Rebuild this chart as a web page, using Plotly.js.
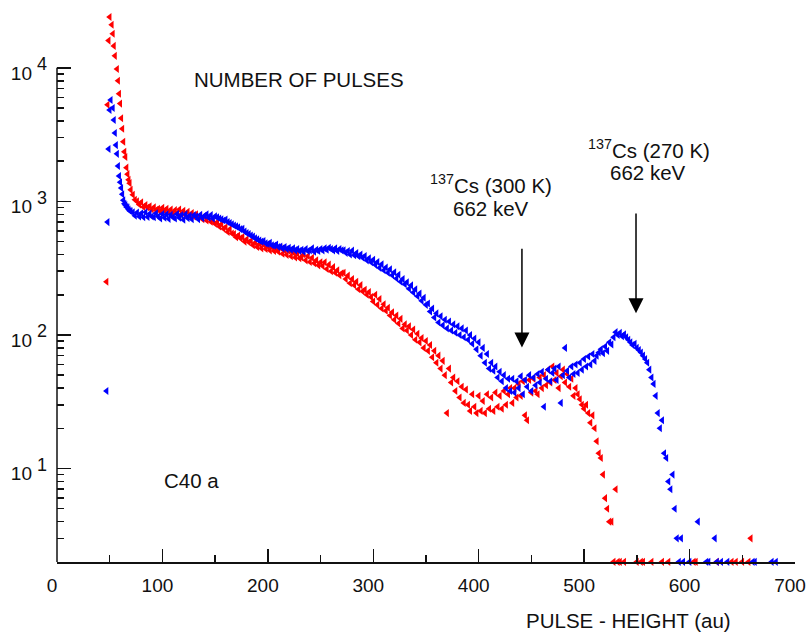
<!DOCTYPE html>
<html><head><meta charset="utf-8">
<script src="https://cdn.plot.ly/plotly-3.0.1.min.js"></script>
<style>html,body{margin:0;padding:0;background:#fff}</style>
</head><body>
<div id="chart" style="width:807px;height:632px"></div>
<script>
// pulse-height channels (au)
const channel = [
46,47,48,49,50,51,52,53,54,55,56,57,58,59,60,61,62,63,64,65,66,67,68,69,70,
72,74,76,78,80,82,84,86,88,90,
92,94,96,98,100,102,104,106,108,110,
112,114,116,118,120,122,124,126,128,130,
132,134,136,138,140,142,144,146,148,150,
152,154,156,158,160,162,164,166,168,170,
172,174,176,178,180,182,184,186,188,190,
192,194,196,198,200,202,204,206,208,210,
212,214,216,218,220,222,224,226,228,230,
232,234,236,238,240,242,244,246,248,250,
252,254,256,258,260,262,264,266,268,270,
272,274,276,278,280,282,284,286,288,290,
292,294,296,298,300,302,304,306,308,310,
312,314,316,318,320,322,324,326,328,330,
332,334,336,338,340,342,344,346,348,350,
352,354,356,358,360,362,364,366,368,370,
372,374,376,378,380,382,384,386,388,390,
392,394,396,398,400,402,404,406,408,410,
412,414,416,418,420,422,424,426,428,430,
432,434,436,438,440,442,444,446,448,450,
452,454,456,458,460,462,464,466,468,470,
472,474,476,478,480,482,484,486,488,490,
492,494,496,498,500,502,504,506,508,510,
512,514,516,518,520,522,524,526,528,530,
532,534,536,538,540,542,544,546,548,550,
552,554,556,558,560,562,564,566,568,570,
572,574,576,578,580,582,584,586,588,590,
592,594,596,598,600,602,604,606,608,610,
612,614,616,618,620,622,624,626,628,630,
632,634,636,638,640,642,644,646,648,650,
652,654,656,658,660,662,664,666,668,670,
672,674,676,678,680,682,684
];

// 137Cs at 300 K (red)
const counts300K = [
null,250,5300,16000,24000,null,21000,18000,14600,12300,null,9800,8000,6400,5400,4200,3500,2800,2350,2150,1790,1600,1450,1370,1220,
1120,1030,1000,950,985,910,940,900,920,870,
905,860,880,840,895,850,880,830,870,815,
860,815,870,800,850,790,835,775,820,770,
800,760,780,735,770,720,755,705,720,680,
695,650,675,625,640,590,620,575,570,540,
555,530,540,500,520,495,505,470,490,455,
480,445,475,440,460,430,455,425,445,420,
450,405,430,398,425,388,415,380,405,375,
380,400,362,390,352,378,345,362,332,350,
328,350,312,336,300,322,292,305,280,290,
292,262,278,244,262,236,250,220,236,212,
218,200,210,192,178,200,168,186,158,170,
152,160,140,148,130,140,122,132,112,120,
108,116,100,110,92,102,88,95,80,90,
76,84,68,76,62,70,56,64,50,26,
56,44,48,38,45,34,41,31,39,30,
27,36,29,26,35,27,32,26,36,28,
34,27,37,29,35,28,38,30,36,40,
31,40,34,43,35,45,25,23,46,37,
47,38,36,48,40,50,42,55,44,58,
46,52,40,49,55,44,51,41,47,35,
40,36,33,30,28,30,26,22,25,20,
16,13,12,9,6,5,4,4,2,7,
2,2,null,2,null,null,null,null,null,2,
null,2,2,null,null,null,2,null,null,null,
null,2,null,null,2,null,null,null,null,null,
null,null,null,null,null,null,2,2,null,null,
null,null,null,null,null,null,null,2,null,null,
null,null,null,null,2,null,2,null,null,2,
null,null,2,3,null,null,null,null,null,null,
null,null,null,null,null,null,null
];

// 137Cs at 270 K (blue)
const counts270K = [
null,38,700,2470,4840,5750,null,5000,4070,3250,2640,2270,1840,1550,1390,1260,1130,1020,960,940,910,900,870,850,845,
830,780,825,770,815,760,830,765,810,770,
760,815,770,745,805,755,800,740,795,760,
745,805,755,790,730,800,750,785,735,790,
770,735,795,750,780,800,755,790,745,775,
760,745,735,720,730,700,690,675,660,650,
640,620,625,595,580,570,555,545,530,520,
510,500,505,485,480,490,470,465,475,455,
460,445,455,440,450,435,445,430,440,425,
435,420,440,425,430,445,420,435,425,440,
430,445,435,450,440,430,445,425,440,430,
430,412,425,400,428,395,410,388,400,378,
390,362,375,350,365,335,352,318,338,305,
320,292,310,280,295,265,282,250,262,240,
248,222,235,208,220,195,204,180,190,168,
172,150,158,135,145,124,138,118,130,112,
126,108,120,104,116,100,112,96,108,92,
100,86,94,78,88,70,80,62,72,56,
62,54,58,48,53,45,50,40,47,38,
47,37,45,40,49,36,46,41,50,38,
48,42,51,44,53,29,47,55,45,52,
56,46,58,31,50,80,54,48,58,51,
60,52,62,55,66,58,69,60,72,64,
70,74,78,73,82,76,88,85,96,105,
100,104,98,101,96,92,88,84,86,80,
77,74,70,66,62,55,48,43,35,26,
20,23,13,12,8,7,9,5,3,2,
3,2,null,null,2,null,null,null,4,null,
null,null,2,2,null,null,3,2,null,2,
null,null,2,null,null,null,null,null,null,null,
null,null,null,null,2,2,null,null,null,null,
null,null,null,2,null,2,null
];

const xTickVals = [0,100,200,300,400,500,600,700];
const yTickVals = [10,100,1000,10000];
const yTickText = ['10','10','10','10'];
const yExponents = ['1','2','3','4'];
const yMinorVals = [3,4,5,6,7,8,9,20,30,40,50,60,70,80,90,200,300,400,500,600,700,800,900,2000,3000,4000,5000,6000,7000,8000,9000];

const FONT = 'Liberation Sans, Arial, Helvetica, sans-serif';
const axisColor = '#111';

// geometry: x axis sits at a count of ~2; drawn y axis line stops at 1e4,
// the plotting range continues above so the tallest peak points stay visible
const plotH = 632 - 10 - 70;
const pxPerDecade = 494 / (4 - Math.log10(2));
const yBottom = Math.log10(1.995);
const yTop = yBottom + plotH / pxPerDecade;

const traces = [
  {x: channel, y: counts300K, type:'scatter', mode:'markers', cliponaxis:false,
   marker:{symbol:'triangle-left', size:7, color:'#ff0000', line:{width:0}}, name:'300 K'},
  {x: channel, y: counts270K, type:'scatter', mode:'markers', cliponaxis:false,
   marker:{symbol:'triangle-left', size:7, color:'#0000ff', line:{width:0}}, name:'270 K'}
];

const annFont = {family: FONT, size: 20.5, color:'#111'};
const annotations = [
  {text:'NUMBER OF PULSES', x:127.8, y:3.91, xref:'x', yref:'y', xanchor:'left', yanchor:'middle', showarrow:false, font:annFont},
  {text:'C40 a', x:99.3, y:0.909, xref:'x', yref:'y', xanchor:'left', yanchor:'middle', showarrow:false, font:annFont},
  {text:'<sup>137</sup>Cs (300 K)', x:411.6, y:3.13, xref:'x', yref:'y', xanchor:'center', yanchor:'middle', showarrow:false, font:annFont},
  {text:'662 keV', x:411.2, y:2.948, xref:'x', yref:'y', xanchor:'center', yanchor:'middle', showarrow:false, font:annFont},
  {text:'<sup>137</sup>Cs (270 K)', x:561.5, y:3.395, xref:'x', yref:'y', xanchor:'center', yanchor:'middle', showarrow:false, font:annFont},
  {text:'662 keV', x:561, y:3.213, xref:'x', yref:'y', xanchor:'center', yanchor:'middle', showarrow:false, font:annFont},
  {text:'PULSE - HEIGHT (au)', x:542, y:-0.1051, xref:'x', yref:'paper', xanchor:'center', yanchor:'middle', showarrow:false, font:annFont},
  {text:'', x:441, y:1.907, xref:'x', yref:'y', ax:441, ay:2.657, axref:'x', ayref:'y', showarrow:true,
   arrowhead:2, arrowsize:2, arrowwidth:1.5, arrowcolor:'#000'},
  {text:'', x:549.2, y:2.162, xref:'x', yref:'y', ax:549.2, ay:2.92, axref:'x', ayref:'y', showarrow:true,
   arrowhead:2, arrowsize:2, arrowwidth:1.5, arrowcolor:'#000'}
];
// exponents of the decade labels (10^n), drawn full-size beside the "10"
yTickVals.forEach((v, i) => {
  annotations.push({text: yExponents[i], x: -15/738, y: Math.log10(v) + 0.026, xref:'paper', yref:'y',
    xanchor:'center', yanchor:'middle', showarrow:false, font:{family:FONT, size:18, color:'#111'}});
});

const layout = {
  width:807, height:632,
  margin:{l:57, r:12, t:10, b:70, pad:0},
  paper_bgcolor:'#fff', plot_bgcolor:'#fff',
  showlegend:false,
  font:{family:FONT, color:'#111', size:19},
  xaxis:{
    range:[0,700], showgrid:false, zeroline:false,
    showline:true, linecolor:axisColor, linewidth:1.5,
    tickmode:'array', tickvals:xTickVals,
    ticks:'inside', ticklen:13, tickwidth:1.5, tickcolor:axisColor,
    minor:{dtick:50, tick0:0, ticks:'inside', ticklen:7, tickwidth:1.5, tickcolor:axisColor, showgrid:false},
    tickfont:{family:FONT, size:19, color:'#111'},
    ticklabelshift:-5, ticklabelstandoff:6
  },
  yaxis:{
    type:'log', range:[yBottom, yTop],
    showgrid:false, zeroline:false, showline:false,
    tickmode:'array', tickvals:yTickVals, ticktext:yTickText,
    ticks:'inside', ticklen:14, tickwidth:1.5, tickcolor:axisColor,
    minor:{tickmode:'array', tickvals:yMinorVals, ticks:'inside', ticklen:7, tickwidth:1.5, tickcolor:axisColor, showgrid:false},
    tickfont:{family:FONT, size:19, color:'#111'},
    ticklabelshift:5, ticklabelstandoff:24
  },
  shapes:[
    {type:'line', xref:'paper', x0:0, x1:0, yref:'y', y0:1.995, y1:10000, layer:'above',
     line:{color:axisColor, width:1.5}}
  ],
  annotations: annotations
};

Plotly.newPlot('chart', traces, layout, {displayModeBar:false, staticPlot:true});
</script>
</body></html>
